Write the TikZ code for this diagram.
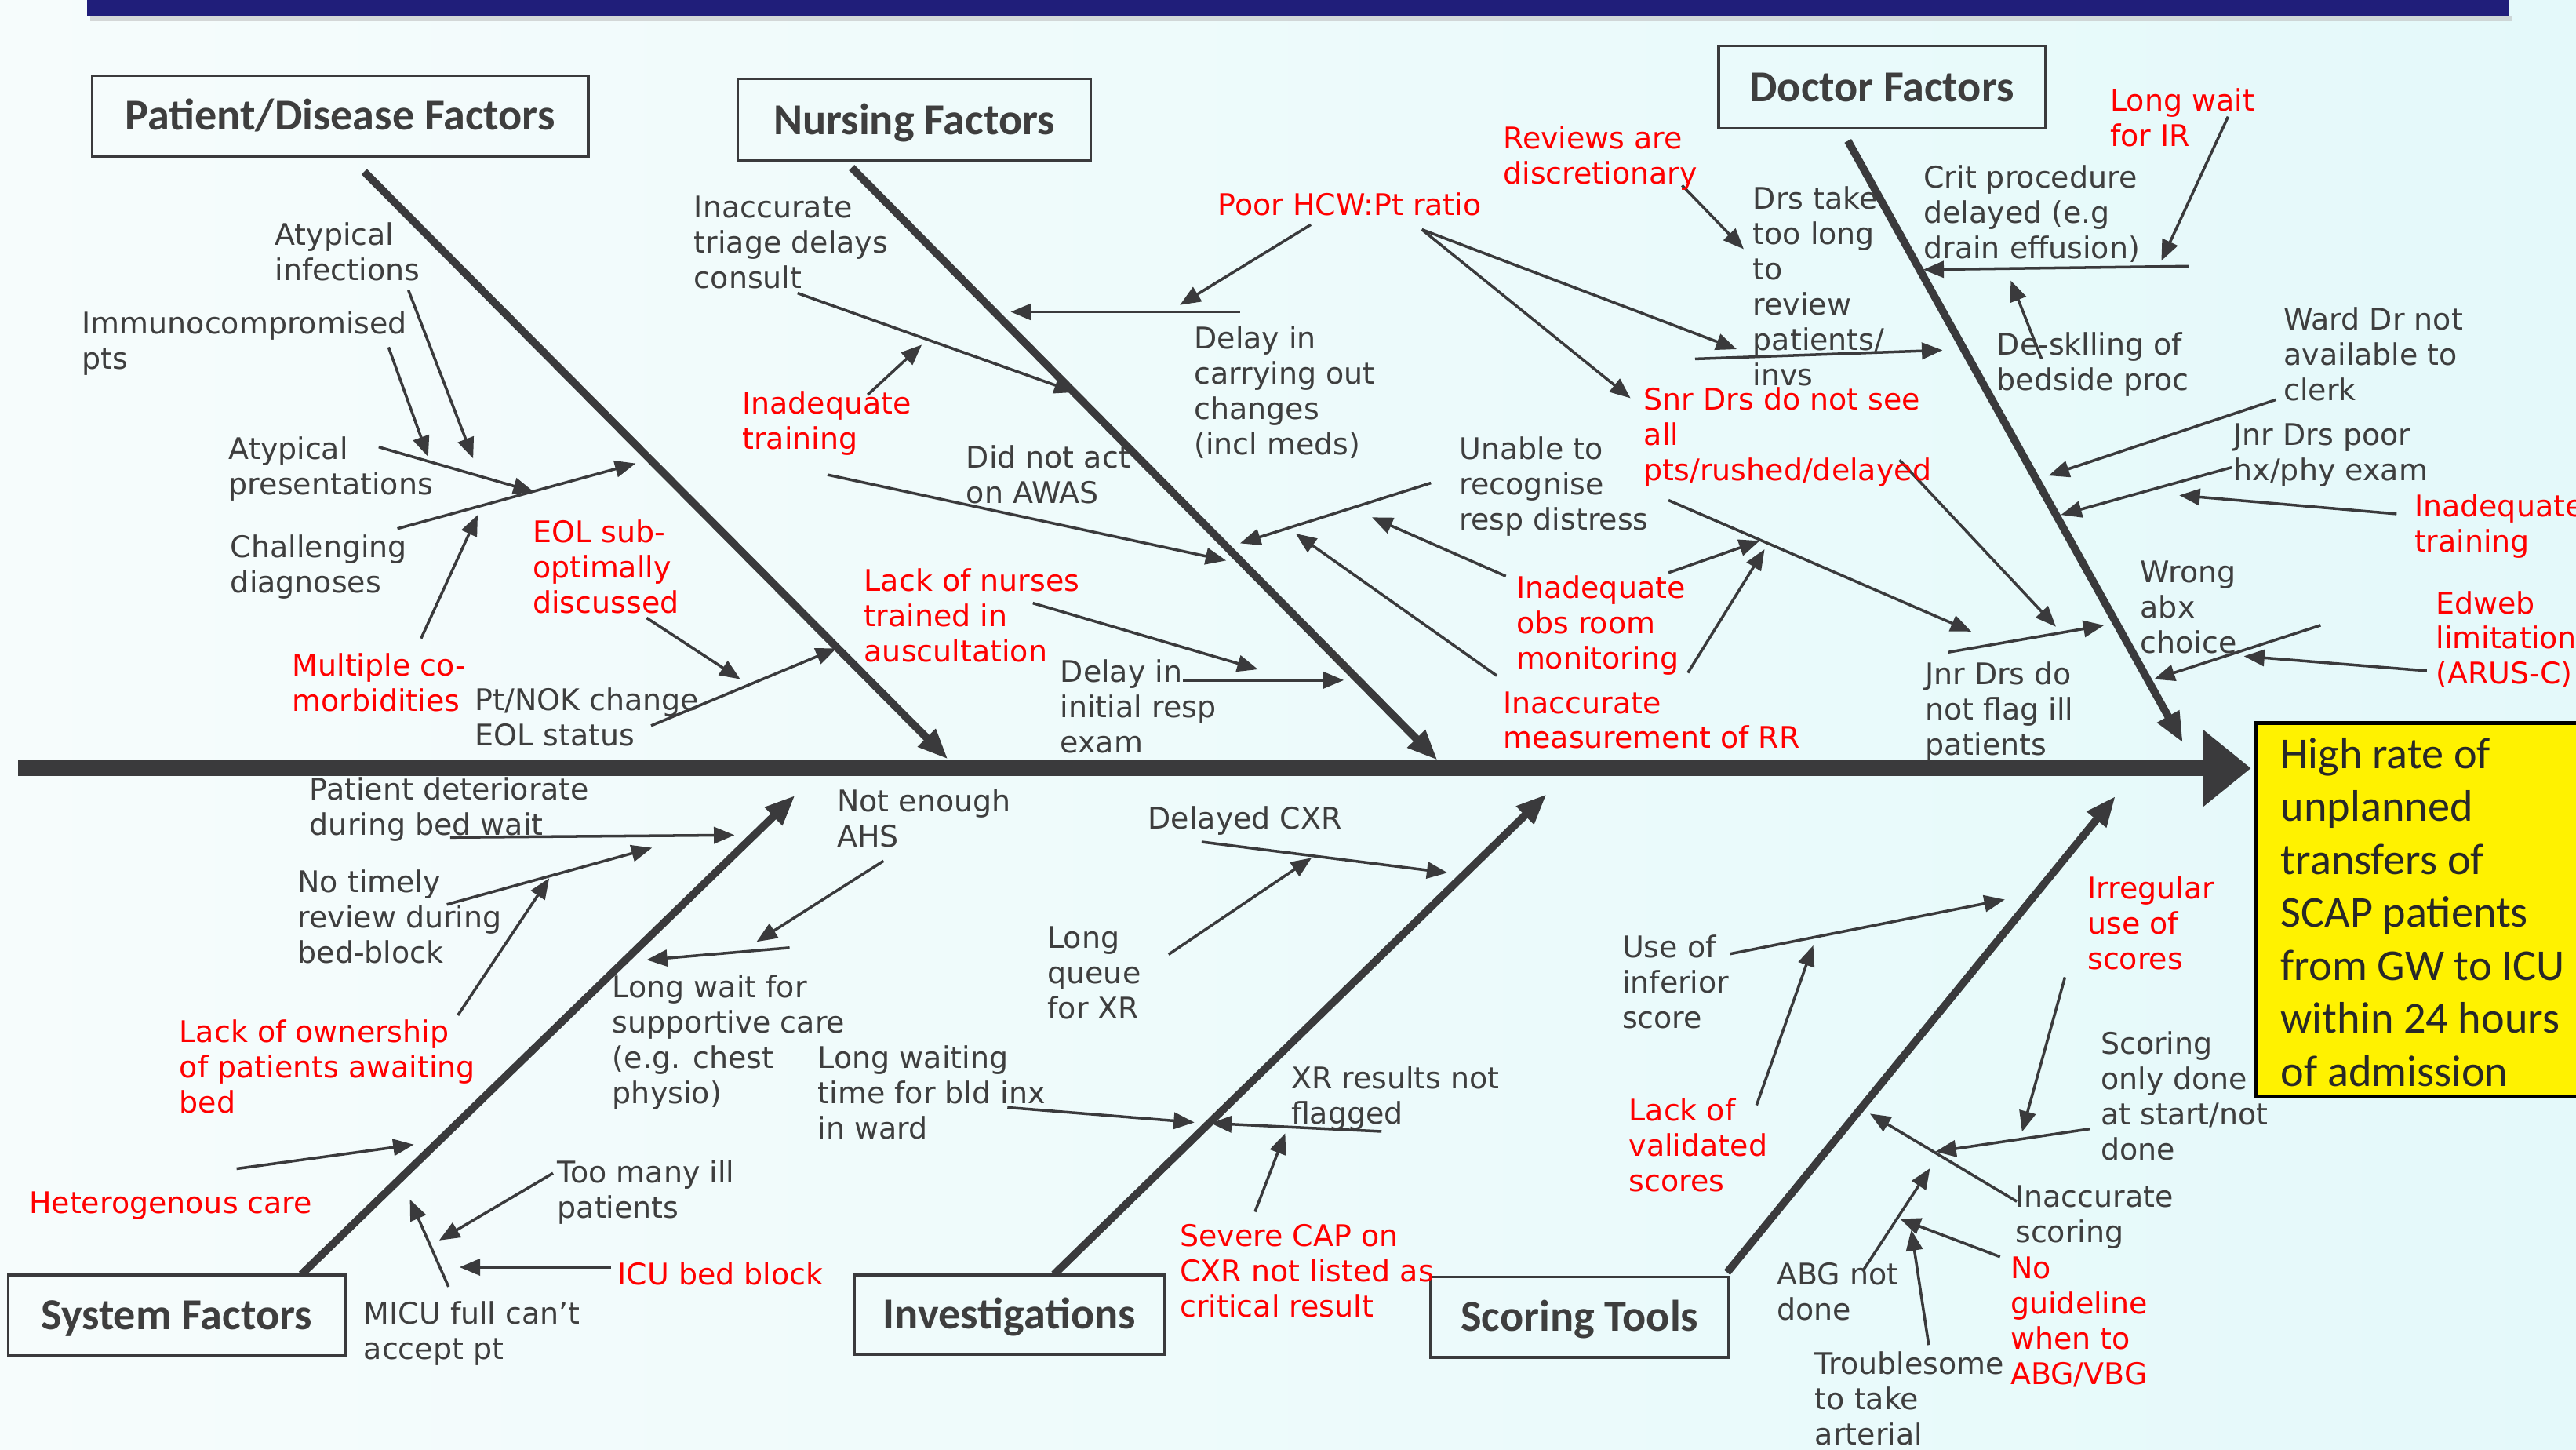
\documentclass[tikz,border=0pt]{standalone}
\usepackage{fontspec}
\setmainfont{DejaVu Sans}
\newfontfamily\carlito{Carlito}
\usetikzlibrary{arrows.meta,fit}
\definecolor{bgl}{RGB}{246,252,252}
\definecolor{bgr}{RGB}{228,249,250}
\definecolor{banner}{RGB}{32,30,122}
\definecolor{ink}{RGB}{58,58,60}
\definecolor{txt}{RGB}{62,62,62}
\definecolor{redtxt}{RGB}{255,0,0}
\definecolor{boxtxt}{RGB}{40,40,40}
\newcommand\subarrow[3]{\coordinate (#1s) at (#2); \coordinate (#1e) at (#3); \draw[sarrow] (#1s) -- (#1e);}
\newcommand\mainbone[3]{\coordinate (#1s) at (#2); \coordinate (#1e) at (#3); \draw[bone] (#1s) -- (#1e);}
\begin{document}
\begin{tikzpicture}[x=0.020944cm,y=-0.020944cm,
  spine/.style={line width=5.7pt, draw=ink},
  bone/.style={line width=2.8pt, draw=ink, -{Triangle[length=11pt,width=8.5pt]}},
  sarrow/.style={line width=1pt, draw=ink, -{Triangle[length=7.5pt,width=6pt]}},
  lbl/.style={anchor=north west, inner sep=0pt, align=left, yshift=4.6pt, font=\fontsize{10.8}{12.8}\selectfont, execute at begin node={\rule{0pt}{10pt}}},
  gt/.style={lbl, text=txt},
  rt/.style={lbl, text=redtxt},
  titlebox/.style={draw=ink, line width=1pt, inner sep=0pt},
  titletext/.style={font=\carlito\bfseries\fontsize{16}{19}\selectfont, text=txt, text height=10.4pt, text depth=0pt, inner sep=0pt}
]
\useasboundingbox (0,0) rectangle (1568,882);
\clip (0,0) rectangle (1568,882);
% background
\fill[left color=bgl, right color=bgr] (0,0) rectangle (1568,882);
% banner
\fill[black!25, opacity=0.6] (55,10) rectangle (1529,13);
\fill[banner] (53,-2) rectangle (1527,10);

% spine
\coordinate (tail) at (11,467.5);
\coordinate (head) at (1341,467.5);
\draw[spine] (tail) -- (head);
\fill[ink] (1341,444) -- (1370,467.5) -- (1341,491) -- cycle;

% effect box
\node[draw=black, line width=1.2pt, fill=yellow, inner sep=0pt, fit={(1373,440)(1620,667)}] (effect) {};
\node[anchor=north west, inner sep=0pt, align=left, font=\carlito\fontsize{16}{19.2}\selectfont, text=boxtxt, execute at begin node={\rule{0pt}{13pt}}] (effecttext) at (1388,448.6) {High rate of\\unplanned\\transfers of\\SCAP patients\\from GW to ICU\\within 24 hours\\of admission};

% bones
\mainbone{B1}{221.7,104.5}{577,462}
\mainbone{B2}{518.4,102}{875,462.6}
\mainbone{B3}{1124.8,85.7}{1328.7,452}
\mainbone{B4}{183.5,775.5}{484,484}
\mainbone{B5}{641.6,775.5}{941.4,483.3}
\mainbone{B6}{1051.3,774.3}{1287.7,484.5}

% patient arrows
\subarrow{p1}{241.9,321.7}{386.9,282}
\subarrow{p2}{230.5,272}{325,299.3}
\subarrow{p3}{236.5,211.3}{260.6,278}
\subarrow{p4}{248.6,176.6}{288,279}
\subarrow{p5}{256.3,388.5}{290.8,313.3}
\subarrow{p6}{393.6,376}{450.6,413.3}
\subarrow{p7}{396.3,441.6}{509.2,394.5}

% nursing arrows
\subarrow{n1}{485.5,178.4}{654.3,238.7}
\subarrow{n2}{528.2,240.2}{561.1,209.8}
\subarrow{n3}{754.8,189.8}{615.2,189.8}
\subarrow{n4}{797.9,136.7}{718.2,185.6}
\subarrow{n5}{503.7,288.9}{746.4,341.1}
\subarrow{n6}{871,293.9}{754.8,330.6}
\subarrow{n7}{916.6,350.6}{835.1,314.8}
\subarrow{n8}{911.1,411.2}{788.7,324.7}
\subarrow{n9}{628.7,367}{765.7,407.3}
\subarrow{n10}{720.1,413.9}{818,413.9}

% doctor arrows
\subarrow{d1}{865.5,139.7}{1057.1,212.5}
\subarrow{d2}{865.5,139.7}{992.5,242.3}
\subarrow{d3}{1023.9,112.8}{1061.4,151.6}
\subarrow{d4}{1031.8,218.4}{1182.4,213.1}
\subarrow{d5}{1356.2,71}{1315.6,158.7}
\subarrow{d6}{1332.2,162}{1170.6,164.1}
\subarrow{d7}{1242.7,218.4}{1223.9,170.7}
\subarrow{d8}{1385.4,243.2}{1247,289.4}
\subarrow{d9}{1358.4,284.4}{1254.5,313.3}
\subarrow{d10}{1458.8,312.7}{1326.5,301.4}
\subarrow{d11}{1412.5,380.5}{1311.2,413.3}
\subarrow{d12}{1477.2,408.2}{1365.8,399.3}
\subarrow{d13}{1185.9,396.9}{1280.7,380.5}
\subarrow{d14}{1156.2,279.9}{1251.4,381.4}
\subarrow{d15}{1015.6,304.4}{1199.9,384.3}
\subarrow{d16}{1015.6,348.5}{1071.1,329.1}
\subarrow{d17}{1027.4,409.4}{1074.1,334.2}

% system arrows
\subarrow{s1}{274,509.6}{447.1,508.2}
\subarrow{s2}{272,550.4}{396.9,515.9}
\subarrow{s3}{278.7,617.8}{334.3,534.4}
\subarrow{s4}{144,711.2}{251.9,696.5}
\subarrow{s5}{336.6,713.9}{267.3,754.8}
\subarrow{s6}{371.8,771.1}{279.7,771.1}
\subarrow{s7}{273,783}{249.5,729.9}
\subarrow{s8}{537.8,523.9}{460.5,573.1}
\subarrow{s9}{480.6,576.7}{393.6,584.1}

% investigation arrows
\subarrow{i1}{731.4,512.3}{881.1,531.1}
\subarrow{i2}{711.3,580.8}{798.4,522}
\subarrow{i3}{613.2,673.9}{727,683}
\subarrow{i4}{840.9,688.5}{737.1,683.5}
\subarrow{i5}{763.9,737.4}{782.3,689.6}

% scoring arrows
\subarrow{c1}{1052.9,580.5}{1220.3,547.4}
\subarrow{c2}{1069.2,672.5}{1103.7,575.3}
\subarrow{c3}{1256.9,594.7}{1230.8,688.7}
\subarrow{c4}{1272.3,686.9}{1178.1,700.8}
\subarrow{c5}{1227.6,731.1}{1138.2,677.7}
\subarrow{c6}{1134.2,772.9}{1174.8,710.9}
\subarrow{c7}{1217.4,764.8}{1156.5,741.7}
\subarrow{c8}{1174,818.5}{1163.4,748.4}

% title boxes
\node[titlebox, fit={(56,46)(358,95)}] (pbox) {};
\node[titletext] (ptitle) at (pbox.center) {Patient/Disease Factors};
\node[titlebox, fit={(449,48)(664,98)}] (nbox) {};
\node[titletext] (ntitle) at (nbox.center) {Nursing Factors};
\node[titlebox, fit={(1046,28)(1245,78)}] (dbox) {};
\node[titletext] (dtitle) at (dbox.center) {Doctor Factors};
\node[titlebox, fit={(5,776)(210,825)}] (sbox) {};
\node[titletext] (stitle) at (sbox.center) {System Factors};
\node[titlebox, fit={(520,776)(709,824)}] (ibox) {};
\node[titletext] (ititle) at (ibox.center) {Investigations};
\node[titlebox, fit={(871,777)(1052,826)}] (cbox) {};
\node[titletext] (ctitle) at (cbox.center) {Scoring Tools};

% patient texts
\node[gt] (t_atinf) at (167,143) {Atypical\\infections};
\node[gt] (t_immuno) at (49.6,197) {Immunocompromised\\pts};
\node[gt] (t_atpres) at (139,273) {Atypical\\presentations};
\node[gt] (t_chall) at (140,333) {Challenging\\diagnoses};
\node[rt] (t_eol) at (324,324) {EOL sub-\\optimally\\discussed};
\node[rt] (t_multi) at (177.6,405) {Multiple co-\\morbidities};
\node[gt] (t_ptnok) at (288.8,426) {Pt/NOK change\\EOL status};

% nursing texts
\node[gt] (t_triage) at (422.2,126.8) {Inaccurate\\triage delays\\consult};
\node[rt] (t_ntrain) at (451.5,245.6) {Inadequate\\training};
\node[rt] (t_hcw) at (740.9,121.7) {Poor HCW:Pt ratio};
\node[gt] (t_carry) at (726.6,205.9) {Delay in\\carrying out\\changes\\(incl meds)};
\node[gt] (t_awas) at (587.8,278.4) {Did not act\\on AWAS};
\node[gt] (t_unable) at (888.1,273) {Unable to\\recognise\\resp distress};
\node[rt] (t_nurses) at (525.7,353.6) {Lack of nurses\\trained in\\auscultation};
\node[gt] (t_initial) at (645.1,408.8) {Delay in\\initial resp\\exam};
\node[rt] (t_obs) at (922.6,357.5) {Inadequate\\obs room\\monitoring};
\node[rt] (t_rr) at (914.7,428.2) {Inaccurate\\measurement of RR};

% doctor texts
\node[rt] (t_reviews) at (914.7,84.2) {Reviews are\\discretionary};
\node[gt] (t_drstake) at (1066.7,120.9) {Drs take\\too long\\to\\review\\patients/\\invs};
\node[rt] (t_snr) at (1000.3,243.2) {Snr Drs do not see\\all\\pts/rushed/delayed};
\node[rt] (t_ir) at (1284.2,61.2) {Long wait\\for IR};
\node[gt] (t_crit) at (1170.6,108) {Crit procedure\\delayed (e.g\\drain effusion)};
\node[gt] (t_deskill) at (1215.2,209.8) {De-sklling of\\bedside proc};
\node[gt] (t_ward) at (1389.8,194.6) {Ward Dr not\\available to\\clerk};
\node[gt] (t_jnrpoor) at (1359.3,265) {Jnr Drs poor\\hx/phy exam};
\node[rt] (t_dtrain) at (1469.3,308.2) {Inadequate\\training};
\node[gt] (t_abx) at (1302.5,348.5) {Wrong\\abx\\choice};
\node[rt] (t_edweb) at (1482.4,367) {Edweb\\limitation\\(ARUS-C)};
\node[gt] (t_jnrflag) at (1171.5,410.3) {Jnr Drs do\\not flag ill\\patients};

% system texts
\node[gt] (t_deter) at (188.2,480.6) {Patient deteriorate\\during bed wait};
\node[gt] (t_timely) at (180.9,536.6) {No timely\\review during\\bed-block};
\node[rt] (t_owner) at (108.9,627.8) {Lack of ownership\\of patients awaiting\\bed};
\node[rt] (t_hetero) at (17.4,729.1) {Heterogenous care};
\node[gt] (t_toomany) at (339,713.4) {Too many ill\\patients};
\node[rt] (t_icu) at (375.8,772.5) {ICU bed block};
\node[gt] (t_micu) at (221.1,799.5) {MICU full can’t\\accept pt};
\node[gt] (t_ahs) at (509.3,487.5) {Not enough\\AHS};
\node[gt] (t_support) at (372.5,600.7) {Long wait for\\supportive care\\(e.g. chest\\physio)};

% investigation texts
\node[gt] (t_cxr) at (698.5,495.2) {Delayed CXR};
\node[gt] (t_queue) at (637.3,571.1) {Long\\queue\\for XR};
\node[gt] (t_bld) at (497.6,643.5) {Long waiting\\time for bld inx\\in ward};
\node[gt] (t_xrflag) at (785.6,655.9) {XR results not\\flagged};
\node[rt] (t_cap) at (718,752.6) {Severe CAP on\\CXR not listed as\\critical result};

% scoring texts
\node[gt] (t_inferior) at (987.1,576.2) {Use of\\inferior\\score};
\node[rt] (t_valid) at (991.2,675.7) {Lack of\\validated\\scores};
\node[rt] (t_irreg) at (1270.3,540.7) {Irregular\\use of\\scores};
\node[gt] (t_scoronly) at (1278.4,635.3) {Scoring\\only done\\at start/not\\done};
\node[gt] (t_inacscore) at (1226.4,728.8) {Inaccurate\\scoring};
\node[gt] (t_abg) at (1081.3,775.8) {ABG not\\done};
\node[rt] (t_guide) at (1223.5,772) {No\\guideline\\when to\\ABG/VBG};
\node[gt] (t_trouble) at (1104.5,830) {Troublesome\\to take\\arterial};
\end{tikzpicture}
\end{document}
